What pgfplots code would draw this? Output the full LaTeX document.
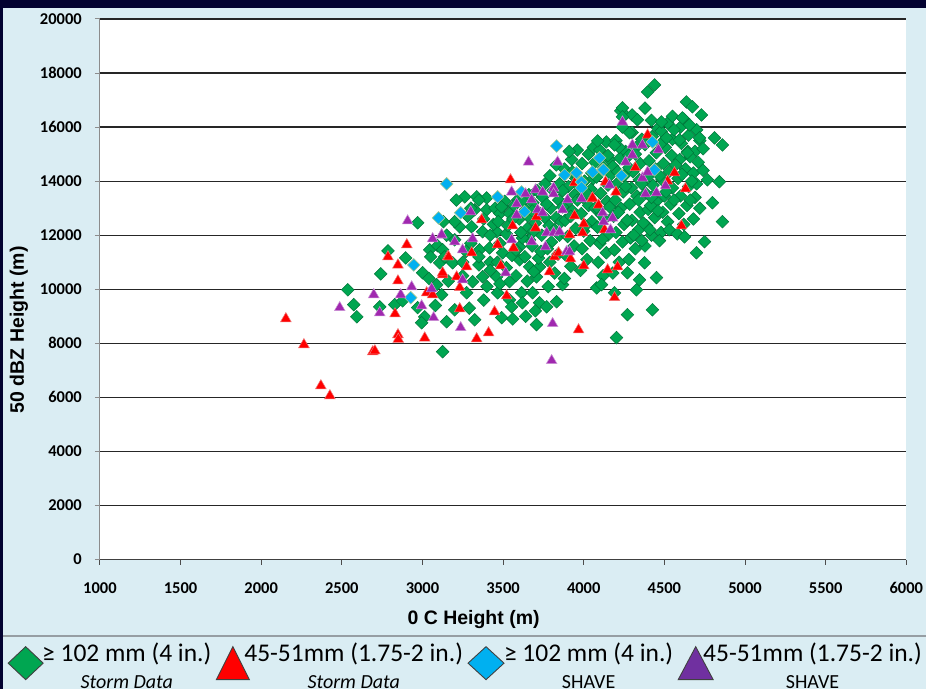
\documentclass[border=0pt]{standalone}
\usepackage{fontspec}
\setmainfont{Carlito}
\newfontfamily\titlefont{Liberation Sans}
\usepackage{pgfplots}
\pgfplotsset{compat=1.18}

\definecolor{frame}{RGB}{2,2,48}
\definecolor{panel}{RGB}{218,237,243}
\definecolor{sepgray}{RGB}{150,158,163}
\definecolor{mkGreen}{RGB}{0,166,81}
\definecolor{mkGreenEdge}{RGB}{0,118,58}
\definecolor{mkRed}{RGB}{255,0,0}
\definecolor{mkRedEdge}{RGB}{240,120,120}
\definecolor{mkCyan}{RGB}{0,176,240}
\definecolor{mkCyanEdge}{RGB}{170,200,140}
\definecolor{mkPurple}{RGB}{160,40,175}
\definecolor{mkPurpleEdge}{RGB}{205,150,215}
\definecolor{legPurple}{RGB}{112,48,160}

\begin{document}
\begin{tikzpicture}[x=1pt,y=1pt]
% frame, panel and the rule above the key
\fill[frame] (0,0) rectangle (927,690);
\fill[panel] (3,0) rectangle (927,682);
\draw[sepgray, line width=1.5pt] (3,53.5) -- (927,53.5);
\useasboundingbox (0,0) rectangle (927,690);

\begin{axis}[
  at={(100pt,130pt)}, anchor=south west,
  width=807pt, height=541pt, scale only axis,
  xmin=1000, xmax=6000, ymin=0, ymax=20000,
  xtick distance=500, ytick distance=2000,
  axis x line*=bottom, axis y line*=left,
  x axis line style={-, black!75, line width=1.2pt},
  y axis line style={-, black!45, line width=1pt},
  tick align=outside, major tick length=5pt,
  x tick style={black!70, line width=1pt},
  y tick style={black!45, line width=1pt},
  ymajorgrids, major grid style={black!85, line width=1.2pt},
  axis background/.style={fill=white},
  scaled ticks=false,
  /pgf/number format/assume math mode=true,
  /pgf/number format/1000 sep={},
  ticklabel style={font=\fontsize{16.5}{18}\selectfont\bfseries},
  xticklabel style={anchor=north, inner sep=0pt, yshift=-18pt},
  yticklabel style={anchor=east, inner sep=0pt, xshift=-13pt},
  xlabel={0 C Height (m)},
  ylabel={50 dBZ Height (m)},
  label style={font=\titlefont\fontsize{19.5}{22}\selectfont\bfseries},
  xlabel style={at={(axis description cs:0.4634,-0.111)}, anchor=center},
  ylabel style={at={(axis description cs:-0.1004,0.425)}, anchor=center},
  legend columns=4,
  legend style={at={(axis description cs:0,0)}, anchor=north west,
    xshift=-92pt, yshift=-83.1pt, draw=none, fill=none, inner sep=0pt,
    font=\fontsize{25.5}{27}\selectfont,
    cells={anchor=base west},
    nodes={inner sep=0pt},
    /tikz/every even column/.append style={column sep=5pt}},
]

% >= 102 mm, Storm Data
\addplot[only marks, mark=square*, mark size=4.5pt,
  mark options={rotate=45, fill=mkGreen, draw=mkGreenEdge, line width=0.5pt},
  legend image code/.code={
    \path[draw=none, fill=none] (0pt,0pt) -- (34pt,0pt);
    \filldraw[overlay, fill=mkGreen, draw=black!75, line width=0.9pt]
      (0pt,-1.5pt) -- (17.5pt,15pt) -- (35pt,-1.5pt) -- (17.5pt,-18pt) -- cycle;}]
coordinates {
(2537,9980) (2574,9430) (2593,8980) (2741,10570) (2735,9350) (2786,11420) (2828,9430)
(2877,9570) (2896,11160) (2970,12460) (2970,9320) (3001,10610) (3014,8980) (2995,8760)
(3125,7690) (3045,11460) (3051,11200) (3094,11610) (3125,11460) (3107,10980) (3088,10170)
(3119,9800)
(3262,13420) (3336,13420) (3398,13380) (3324,12940) (3398,12940) (3497,13050) (3231,12310)
(3305,12310) (3373,12130) (3460,12130) (3200,11830) (3354,11460) (3416,11530) (3497,11350)
(3602,11570) (3664,11830) (3602,11090) (3664,10830) (3726,10830) (3707,10460) (3138,11200)
(3187,10980) (3311,10280) (3373,10460) (3460,10460) (3540,10280) (3274,9870) (3466,9870)
(3540,9610) (3615,9870) (3683,9870) (3726,9500) (3770,9350) (3832,9540) (3869,10170)
(3200,9240) (3324,8870) (3491,8950) (3553,9350) (3707,8690)
(3150,12000) (3200,12500) (3250,11000) (3300,11700) (3350,10900) (3420,11000) (3280,12700)
(3380,12600) (3440,12400) (3420,10700) (3250,10500) (3160,10300) (3350,11200) (3450,13000)
(3300,13000)
(3040,10400) (3080,9400) (3150,8800) (3290,9300) (3380,9600) (3400,10100) (3480,10200)
(3520,10800) (3580,10500) (3650,10300) (3620,9500) (3700,9200) (3560,8900) (3640,9000)
(3420,12000) (3480,12800) (3270,11400) (3130,12500) (3210,13300) (3350,13300)
(3480,11700) (3520,12050) (3470,12500) (3540,12800) (3510,13250) (3555,11250) (3465,11000)
(3530,12350) (3490,13050)
(3580,11450) (3620,11900) (3650,12250) (3600,12600) (3640,12950) (3590,13300) (3660,13500)
(3610,12100) (3570,13100) (3635,11200) (3655,12700) (3560,12600) (3620,13250)
(3690,10650) (3720,11150) (3680,11600) (3740,12000) (3700,12450) (3730,12800) (3685,13200)
(3745,13400) (3710,13650) (3760,13900) (3690,12150) (3735,11400) (3680,12900) (3760,12650)
(3780,10100) (3820,10600) (3790,11000) (3840,11300) (3800,11750) (3850,12000) (3785,12350)
(3830,12650) (3795,13000) (3845,13300) (3810,13650) (3850,13900) (3790,14200) (3830,14600)
(3860,12500) (3775,11500) (3770,13150) (3820,12200)
(3880,10400) (3920,10850) (3890,11250) (3940,11600) (3900,11950) (3950,12250) (3885,12550)
(3930,12900) (3895,13200) (3945,13500) (3905,13800) (3950,14100) (3880,14450) (3925,14800)
(3960,15150) (3910,15100) (3870,13050) (3870,13650) (3920,12700) (3960,13300) (3970,13850)
(3930,14350)
(3980,10700) (4020,11100) (3990,11500) (4040,11800) (4000,12150) (4050,12500) (3985,12800)
(4030,13100) (3995,13400) (4045,13700) (4005,14000) (4050,14300) (3990,14650) (4030,15000)
(4060,15250) (4010,12350) (4020,13550) (4070,13000) (4060,14100) (4070,14700)
(4080,10050) (4120,10500) (4090,11000) (4140,11350) (4100,11700) (4150,12000) (4085,12300)
(4130,12600) (4095,12950) (4145,13250) (4105,13550) (4150,13850) (4080,14150) (4125,14500)
(4160,14800) (4100,15150) (4140,15450) (4115,11850) (4110,12750) (4160,13050) (4170,14250)
(4150,14950)
(4180,10600) (4220,11000) (4190,11450) (4240,11750) (4200,12100) (4250,12400) (4185,12700)
(4230,13000) (4195,13300) (4245,13600) (4205,13900) (4250,14200) (4180,14550) (4225,14850)
(4260,15100) (4200,15500) (4240,16000) (4230,16600) (4255,16450) (4215,12850) (4210,14350)
(4220,15250)
(4280,11100) (4320,11500) (4290,11900) (4340,12200) (4300,12550) (4350,12850) (4285,13150)
(4330,13450) (4295,13750) (4345,14050) (4305,14350) (4350,14650) (4280,14950) (4325,15250)
(4360,15550) (4300,15800) (4340,13300) (4310,12000) (4270,12550) (4260,13800) (4280,14500)
(4320,15000) (4300,16450)
(4380,11600) (4420,12000) (4390,12350) (4440,12650) (4400,12950) (4450,13250) (4385,13550)
(4430,13850) (4395,14150) (4445,14450) (4405,14750) (4450,15050) (4380,15350) (4425,15650)
(4460,15950) (4415,13100) (4360,13900) (4370,12450) (4360,11800) (4410,12200) (4420,13400)
(4420,16250) (4380,16700)
(4480,12100) (4520,12500) (4490,12850) (4540,13150) (4500,13450) (4550,13750) (4485,14050)
(4530,14350) (4495,14650) (4545,14950) (4505,15250) (4550,15550) (4480,15850) (4520,16150)
(4510,13600) (4470,14200) (4460,12900) (4470,11800) (4530,12200) (4480,15400) (4550,16400)
(4580,12050) (4620,12400) (4590,12800) (4640,13100) (4600,13450) (4650,13800) (4585,14100)
(4630,14450) (4595,14800) (4645,15100) (4605,15400) (4650,15700) (4600,16000) (4620,16300)
(4560,13300) (4570,14600) (4560,15900) (4610,14250)
(4680,12600) (4720,13000) (4690,13400) (4700,13900) (4680,14300) (4710,14700) (4690,15100)
(4720,15500) (4660,13300) (4670,14000) (4660,14900) (4700,15900) (4740,15200) (4740,14400)
(4439,17560) (4396,17300) (4637,16930) (4674,16750) (4730,16450) (4612,16340) (4240,16710)
(4333,16270) (4482,16190) (4240,16380) (4656,16080) (4811,15600) (4860,15340) (4718,15600)
(4086,15490) (4191,15340) (4284,15790) (4513,15600) (4594,15530) (4643,15050) (4767,14050)
(4841,13980) (4798,13200) (4860,12500) (4749,11760) (4699,11350) (4625,11940) (4377,10980)
(4451,10430) (4271,10610) (4346,10350) (4327,9980) (4110,10170) (4191,9870) (4426,9240)
(4271,9060) (4203,8210)
};
\addlegendentry{\begin{tabular}[t]{@{}c@{}}≥ 102 mm (4 in.)\\{\fontsize{20}{27}\selectfont\itshape Storm Data}\end{tabular}}

% 45-51 mm, Storm Data
\addplot[only marks, mark=triangle*, mark size=6.2pt,
  mark options={fill=mkRed, draw=mkRedEdge, line width=0.5pt},
  legend image code/.code={
    \path[draw=none, fill=none] (0pt,0pt) -- (28pt,0pt);
    \filldraw[overlay, fill=mkRed, draw=black!75, line width=0.9pt]
      (0pt,-18pt) -- (33pt,-18pt) -- (16.5pt,15pt) -- cycle;}]
coordinates {
(2153,8910) (2265,7950) (2370,6430) (2426,6060) (2692,7690) (2705,7720) (2848,8320)
(2850,8150) (3014,8200) (2830,9090) (3026,9870) (3063,9800) (3125,10540) (3156,11200)
(2903,11650) (2786,11200) (2848,10900) (2848,10310)
(3546,14050) (3367,12570) (3559,12350) (3701,12270) (3466,11650) (3565,11530) (3162,11200)
(3305,11350) (3274,10830) (3125,10610) (3212,10460) (3231,10060) (3485,10870) (3788,10650)
(3522,9760) (3447,9170) (3231,9280) (3410,8390) (3336,8170) (3968,8500) (3943,12720)
(3912,12020) (3993,12090) (4000,12420) (3819,11200) (3918,11130) (4000,10870) (3943,13940)
(4049,13350) (3844,11350) (3707,12680)
(4396,15710) (4563,14310) (4631,13720) (4606,12350) (4210,10830) (4148,10720) (4191,9690)
(4129,12200) (4092,13120) (4055,13380) (4135,13970) (4320,14500) (4200,13600) (4520,14000)
};
\addlegendentry{\begin{tabular}[t]{@{}c@{}}45-51mm (1.75-2 in.)\\{\fontsize{20}{27}\selectfont\itshape Storm Data}\end{tabular}}

% >= 102 mm, SHAVE
\addplot[only marks, mark=square*, mark size=4.5pt,
  mark options={rotate=45, fill=mkCyan, draw=mkCyanEdge, line width=0.6pt},
  legend image code/.code={
    \path[draw=none, fill=none] (0pt,0pt) -- (36pt,0pt);
    \filldraw[overlay, fill=mkCyan, draw=black!75, line width=0.9pt]
      (0pt,-1.5pt) -- (18pt,15pt) -- (36pt,-1.5pt) -- (18pt,-18pt) -- cycle;}]
coordinates {
(3150,13900) (3100,12640) (2946,10900) (2927,9690) (3237,12830) (3466,13420) (3633,12870)
(3615,13600) (3832,15300) (3881,14230) (3955,14310) (3986,13970) (3986,13750) (4055,14340)
(4117,14420) (4098,14860) (4234,14200) (4426,15450) (4439,14420) (4123,14420)
};
\addlegendentry{\begin{tabular}[t]{@{}c@{}}≥ 102 mm (4 in.)\\{\fontsize{20}{27}\selectfont SHAVE}\end{tabular}}

% 45-51 mm, SHAVE
\addplot[only marks, mark=triangle*, mark size=6.2pt,
  mark options={fill=mkPurple, draw=mkPurpleEdge, line width=0.5pt},
  legend image code/.code={
    \path[draw=none, fill=none] (0pt,0pt) -- (25pt,0pt);
    \filldraw[overlay, fill=legPurple, draw=black!75, line width=0.9pt]
      (0pt,-18pt) -- (35pt,-18pt) -- (17.5pt,15pt) -- cycle;}]
coordinates {
(2908,12530) (3063,11870) (3119,12010) (2933,10090) (2865,9800) (2698,9800) (2487,9320)
(2735,9130) (2995,9390) (3057,10020) (3069,8950)
(3658,14710) (3838,14710) (3553,13600) (3639,13530) (3701,13680) (3745,13600) (3813,13750)
(3813,13530) (3677,13310) (3584,13160) (3584,12750) (3714,12940) (3745,12830) (3900,13310)
(3869,12940) (3986,13350) (3299,12870) (3119,12020) (3200,11760) (3249,11460) (3311,11870)
(3553,11830) (3770,12090) (3813,12090) (3850,12130) (3677,11760) (3763,11570) (3893,11390)
(3912,11390) (3516,10610) (3249,10350) (3237,8580) (3807,8730) (3801,7360)
(4240,16190) (4302,15340) (4364,15340) (4463,15160) (4302,14970) (4259,14710) (4364,14120)
(4396,14340) (4160,13860) (4383,13530) (4451,13570) (4507,13830) (4117,12830) (4179,12640)
(4123,12500) (4166,12200)
};
\addlegendentry{\begin{tabular}[t]{@{}c@{}}45-51mm (1.75-2 in.)\\{\fontsize{20}{27}\selectfont SHAVE}\end{tabular}}

\end{axis}
\end{tikzpicture}
\end{document}
